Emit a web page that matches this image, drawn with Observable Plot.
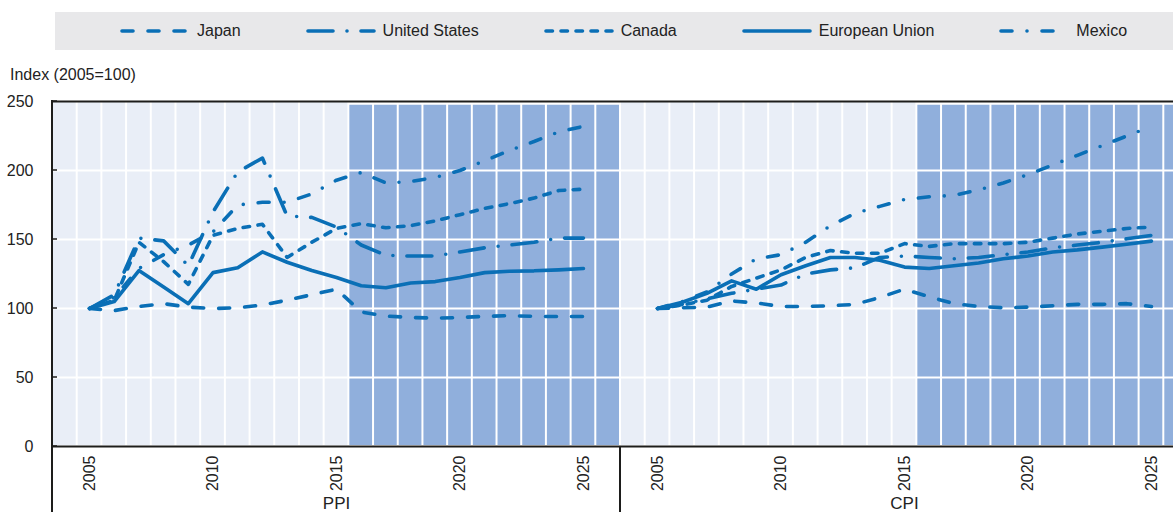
<!DOCTYPE html>
<html>
<head>
<meta charset="utf-8">
<script src="https://cdn.jsdelivr.net/npm/d3@7"></script>
<script src="https://cdn.jsdelivr.net/npm/@observablehq/plot@0.6"></script>
<style>
html, body { margin: 0; padding: 0; overflow: hidden; background: #fff; }
#wrap { position: relative; width: 1188px; height: 512px; font-family: Arial, "Liberation Sans", sans-serif; color: #222; }
#legend { position: absolute; left: 55px; top: 12px; width: 1118px; height: 38px; background: #e8e8ea;
  display: flex; align-items: center; padding-left: 65px; box-sizing: border-box; gap: 65px; font-size: 16px; }
.item { display: flex; align-items: center; white-space: nowrap; }
.item svg { margin-right: 7px; }
#chart { position: absolute; left: 0; top: 0; }
</style>
</head>
<body>
<div id="wrap"><div id="chart"></div><div id="legend"></div></div>
<script>
// ---- data ----
const panels = ["PPI", "CPI"];
const series = ["Japan", "United States", "Canada", "European Union", "Mexico"];
const bandYears = [2004,2005,2006,2007,2008,2009,2010,2011,2012,2013,2014,2015,2016,2017,2018,2019,2020,2021,2022,2023,2024,2025,2026];
const years = [2005,2006,2007,2008,2009,2010,2011,2012,2013,2014,2015,2016,2017,2018,2019,2020,2021,2022,2023,2024,2025];
const tickYears = [2005, 2010, 2015, 2020, 2025];
const yTicks = [0, 50, 100, 150, 200, 250];
const projectionStart = 2016;

const ppiJapan  = [100, 98.5, 101.5, 103.5, 101, 100, 100.5, 102.5, 106, 110, 114, 97.5, 94.5, 93.5, 93, 93.5, 94.3, 94.8, 94.3, 94.2, 94.2];
const ppiUS     = [100, 110, 151, 149, 131, 170, 199, 209, 167, 166, 159, 146, 138.5, 138, 138, 141, 144, 146, 148, 151, 151];
const ppiCanada = [100, 106, 148, 134, 117.5, 153, 158, 161, 137, 148, 158, 161.5, 158.5, 160, 163.5, 168, 172.5, 176, 180, 185.5, 186.5];
const ppiEU     = [100, 105, 127.5, 115.5, 103.5, 126, 129.5, 141, 133.5, 127.5, 122.5, 116.5, 115, 118.5, 119.5, 122.5, 126, 127, 127.3, 128, 129];
const ppiMexico = [100, 108, 129, 139, 146, 155.5, 175, 177, 177, 183, 193, 198.5, 191, 192, 195, 200, 207, 214.5, 221, 228, 232];

const cpiJapan  = [100, 100.5, 101, 105.5, 104, 101.5, 101.5, 102, 103, 108, 114, 108.5, 103.5, 101.5, 100.5, 101, 102, 103, 103, 103.5, 101.5];
const cpiUS     = [100, 103, 107, 111, 114, 117, 125, 128, 129.5, 137, 138, 137, 136, 137, 139, 141, 144, 146, 148, 150.5, 153];
const cpiCanada = [100, 102.5, 106, 116, 122, 128, 137, 142, 140, 140, 147, 145, 147, 147, 147, 148, 151, 154, 156, 158, 159];
const cpiEU     = [100, 104.5, 111, 120, 114, 124.5, 131, 137, 137, 135, 130, 129, 131, 133, 136, 138, 141, 142.5, 144.5, 146.5, 148.8];
const cpiMexico = [100, 105, 112, 125, 136, 139, 148, 160, 169, 174, 179, 181, 182, 186, 191, 197, 204, 211, 218, 225, 232];

// ---- styles ----
const blue = "#0a6fb6";
const lightBand = "#e9eef7";
const darkBand = "#90afdc";
const ink = "#1d1d1b";
const dashes = {
  "Japan": "11,15",
  "United States": "25,14,0,14",
  "Canada": "6.5,8.5",
  "European Union": null,
  "Mexico": "11,15,0,15"
};

// ---- table ----
const key = (p, y) => p + "|" + y;
const byPanel = {
  PPI: [ppiJapan, ppiUS, ppiCanada, ppiEU, ppiMexico],
  CPI: [cpiJapan, cpiUS, cpiCanada, cpiEU, cpiMexico]
};
const rows = [];
for (const p of panels) {
  byPanel[p].forEach((vals, si) => {
    vals.forEach((v, i) => rows.push({panel: p, series: series[si], year: years[i], key: key(p, years[i]), value: v}));
  });
}
const bands = panels.flatMap(p => bandYears.map(y => ({panel: p, year: y, key: key(p, y)})));
const xDomain = bands.map(d => d.key);
const xTicks = panels.flatMap(p => tickYears.map(y => key(p, y)));
const midYear = bandYears[Math.floor(bandYears.length / 2)];

const W = 1188, H = 512, mL = 52, mR = 0, mT = 101, mB = 66;
const fontFamily = 'Arial, "Liberation Sans", sans-serif';

const plot = Plot.plot({
  width: W, height: H,
  marginLeft: mL, marginRight: mR, marginTop: mT, marginBottom: mB,
  style: {fontSize: "16px", fontFamily, color: "#222", background: "transparent", overflow: "visible"},
  x: {type: "band", domain: xDomain, padding: 0, ticks: xTicks, tickFormat: d => d.split("|")[1],
      tickRotate: -90, tickSize: 0, tickPadding: 9, label: null},
  y: {domain: [0, 250], ticks: yTicks, tickSize: 0, tickPadding: 19, label: null},
  marks: [
    Plot.barY(bands.filter(d => d.year < projectionStart), {x: "key", y: 250, fill: lightBand, inset: 1}),
    Plot.barY(bands.filter(d => d.year >= projectionStart), {x: "key", y: 248, fill: darkBand, inset: 1}),
    Plot.ruleY([50, 100, 150, 200], {stroke: "white", strokeWidth: 2}),
    Plot.ruleY([250], {stroke: ink, strokeWidth: 2}),
    Plot.ruleY([0], {stroke: ink, strokeWidth: 2}),
    ...series.map(s => Plot.line(rows, {
      filter: d => d.series === s,
      x: "key", y: "value", z: "panel",
      stroke: blue, strokeWidth: 3.6,
      strokeDasharray: dashes[s] || undefined,
      strokeLinecap: "round", strokeLinejoin: "round"
    })),
    Plot.text(panels, {x: p => key(p, midYear), y: 0, dy: 57, text: d => d, fontSize: 17, fill: "#222"})
  ]
});
document.getElementById("chart").appendChild(plot);

// decorations: y label, panel separators, inward y ticks
const svg = d3.select(plot);
const yS = plot.scale("y");
const yPos = v => yS.range[0] + (v - yS.domain[0]) / (yS.domain[1] - yS.domain[0]) * (yS.range[1] - yS.range[0]);
const step = (W - mL - mR) / xDomain.length;
svg.append("text").attr("x", 10).attr("y", mT - 21).attr("text-anchor", "start")
  .attr("font-size", 16).attr("font-family", fontFamily).attr("fill", "#222")
  .text("Index (2005=100)");
svg.append("line").attr("x1", mL).attr("x2", mL).attr("y1", mT - 1).attr("y2", H)
  .attr("stroke", ink).attr("stroke-width", 2);
for (let i = 1; i < panels.length; i++) {
  const x = mL + i * bandYears.length * step;
  svg.append("line").attr("x1", x).attr("x2", x)
    .attr("y1", H - mB).attr("y2", H).attr("stroke", ink).attr("stroke-width", 2);
}
for (const t of yTicks) {
  svg.append("line").attr("x1", mL).attr("x2", mL + 5).attr("y1", yPos(t)).attr("y2", yPos(t))
    .attr("stroke", ink).attr("stroke-width", 1.5);
}

// legend
const legend = d3.select("#legend");
for (const s of series) {
  const item = legend.append("div").attr("class", "item");
  const sv = item.append("svg").attr("width", 70).attr("height", 10);
  sv.append("line").attr("x1", 2).attr("x2", 68).attr("y1", 5).attr("y2", 5)
    .attr("stroke", blue).attr("stroke-width", 3.6).attr("stroke-linecap", "round")
    .attr("stroke-dasharray", dashes[s]);
  item.append("span").text(s);
}
</script>
</body>
</html>
